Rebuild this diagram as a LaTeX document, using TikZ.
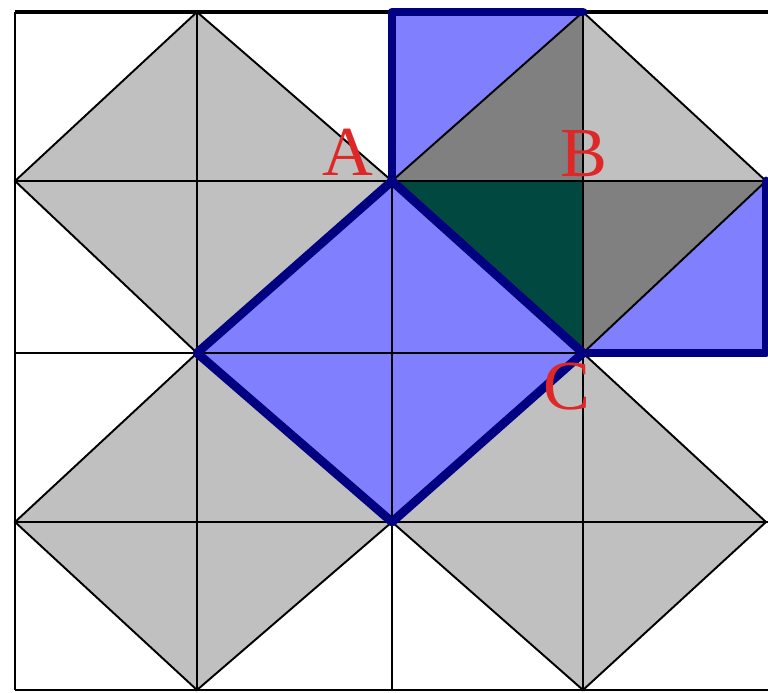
\documentclass[tikz,border=0pt]{standalone}
\usepackage{fontspec}
\setmainfont{Liberation Serif}
\definecolor{bleu}{RGB}{128,128,255}
\definecolor{marine}{RGB}{0,0,128}
\definecolor{grisclair}{RGB}{192,192,192}
\definecolor{grisfonce}{RGB}{128,128,128}
\definecolor{vertfonce}{RGB}{0,72,64}
\definecolor{rouge}{RGB}{222,40,40}
\begin{document}
	\begin{tikzpicture}[x=0.02cm,y=-0.02cm,
		trait/.style={line width=1.6pt,black},
		fin/.style={line width=1.1pt,black},
		epais/.style={line width=5pt,marine,line cap=round,line join=round},
		lettre/.style={text=rouge,font=\fontsize{40}{40}\selectfont,inner sep=0pt}]
		\useasboundingbox (0,0) rectangle (768,693);
		%sommets du quadrillage
		\foreach \i/\px in {0/15,1/197,2/392,3/583,4/766}
			\foreach \j/\py in {0/12,1/181,2/353,3/522,4/690}
				\coordinate (p\i\j) at (\px,\py);
		\coordinate (A) at (p21);
		\coordinate (B) at (p31);
		\coordinate (C) at (p32);
		%losanges
		\fill[grisclair] (p01)--(p10)--(p21)--(p12)--cycle;
		\fill[grisclair] (p21)--(p30)--(p41)--(p32)--cycle;
		\fill[grisclair] (p03)--(p12)--(p23)--(p14)--cycle;
		\fill[grisclair] (p23)--(p32)--(p43)--(p34)--cycle;
		%carrés
		\fill[bleu] (A)--(p12)--(p23)--(C)--cycle;
		\fill[bleu] (p20) rectangle (B);
		\fill[bleu] (B) rectangle (p42);
		\fill[grisfonce] (A)--(p30)--(B)--cycle;
		\fill[grisfonce] (B)--(p41)--(C)--cycle;
		\fill[vertfonce] (A)--(B)--(C)--cycle;
		%quadrillage
		\foreach \i in {0,1,2,3} \draw[trait] (p\i0)--(p\i4);
		\foreach \j in {1,2,3,4} \draw[trait] (p0\j)--(768,0|-p0\j);
		\draw[line width=2.8pt] (p00)--(768,0|-p00);
		\draw[fin] (p01)--(p10)--(p21)--(p12)--cycle;
		\draw[fin] (p21)--(p30)--(p41)--(p32)--cycle;
		\draw[fin] (p03)--(p12)--(p23)--(p14)--cycle;
		\draw[fin] (p23)--(p32)--(p43)--(p34)--cycle;
		%bords épais
		\draw[epais] (A)--(p12)--(p23)--(C)--cycle;
		\draw[epais] (A)--(p20)--(p30);
		\draw[epais] (C)--(p42)--(p41);
		%décorations
		\node[lettre] (lA) at (348,152) {A};
		\node[lettre] (lB) at (584,154) {B};
		\node[lettre] (lC) at (567,387) {C};
	\end{tikzpicture}
\end{document}
